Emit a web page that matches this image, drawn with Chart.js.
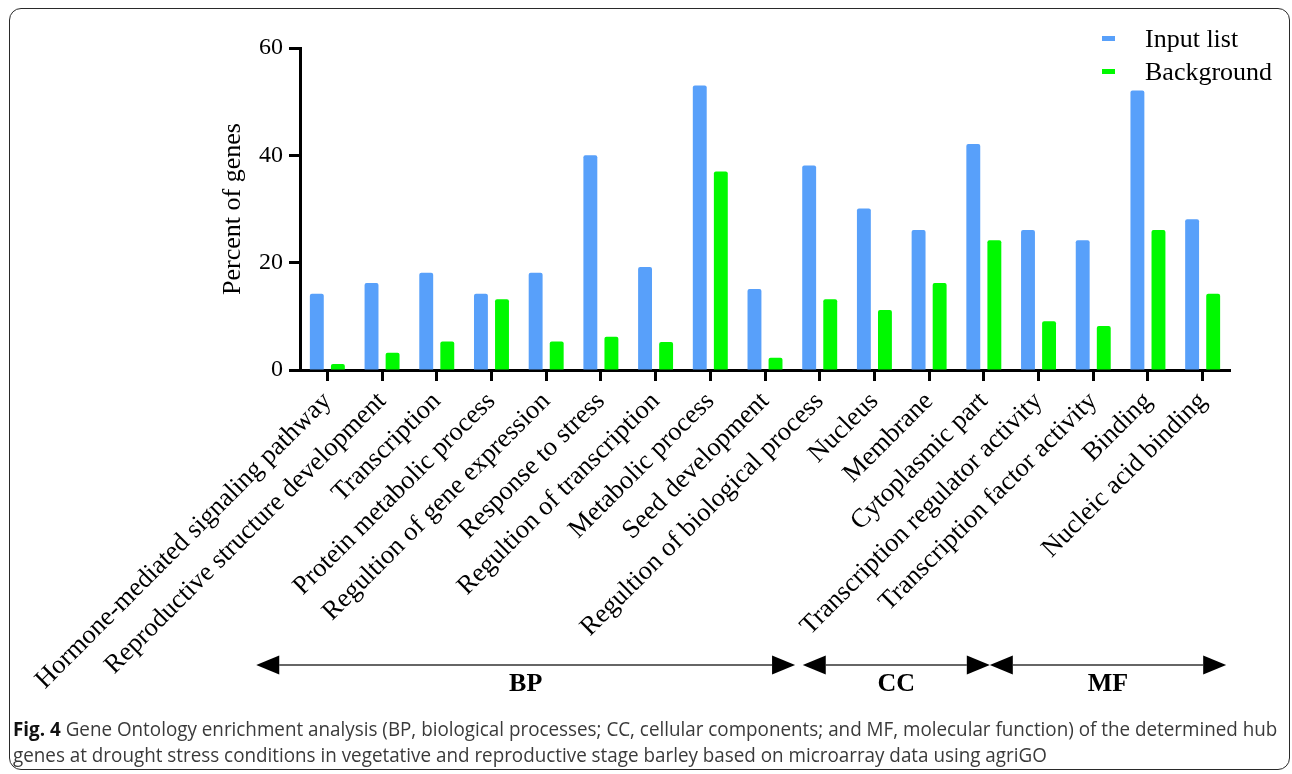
<!DOCTYPE html>
<html>
<head>
<meta charset="utf-8">
<script src="https://cdn.jsdelivr.net/npm/chart.js@4.4.1/dist/chart.umd.min.js"></script>
<style>
  html, body { margin: 0; padding: 0; background: #fff; }
  #wrap { position: relative; width: 1292px; height: 774px; overflow: hidden; }
  #chart { position: absolute; left: 0; top: 0; }
  #frame { position: absolute; left: 9px; top: 8px; width: 1281px; height: 762px;
           border: 1.5px solid #2a2a2a; border-radius: 12px; box-sizing: border-box; pointer-events: none; }
  .cap { position: absolute; left: 13px; white-space: nowrap; font-family: "Open Sans", sans-serif;
         font-size: 19.5px; line-height: 26px; color: #3a3a3a; transform-origin: 0 0; }
  .cap b { color: #111; font-weight: 700; }
</style>
</head>
<body>
<div id="wrap">
  <canvas id="chart" width="1292" height="774"></canvas>
  <div id="frame"></div>
  <div class="cap" id="cap1" style="top:716px"><b>Fig. 4</b> Gene Ontology enrichment analysis (BP, biological processes; CC, cellular components; and MF, molecular function) of the determined hub</div>
  <div class="cap" id="cap2" style="top:742px">genes at drought stress conditions in vegetative and reproductive stage barley based on microarray data using agriGO</div>
</div>
<script>
// GO terms on the x axis
const categories = [
  'Hormone-mediated signaling pathway',
  'Reproductive structure development',
  'Transcription',
  'Protein metabolic process',
  'Regultion of gene expression',
  'Response to stress',
  'Regultion of transcription',
  'Metabolic process',
  'Seed development',
  'Regultion of biological process',
  'Nucleus',
  'Membrane',
  'Cytoplasmic part',
  'Transcription regulator activity',
  'Transcription factor activity',
  'Binding',
  'Nucleic acid binding'
];

// percent of genes annotated to each term
const inputList  = [14.2, 16.2, 18.1, 14.2, 18.1, 40.0, 19.2, 53.0, 15.1, 38.1, 30.1, 26.1, 42.1, 26.1, 24.2, 52.1, 28.1];
const background = [1.1, 3.2, 5.3, 13.2, 5.3, 6.2, 5.2, 37.0, 2.3, 13.2, 11.2, 16.2, 24.2, 9.1, 8.2, 26.1, 14.2];

const seriesNames = ['Input list', 'Background'];
const yTicks = [0, 20, 40, 60];

// ontology groups, spans given in category-index units
const groupNames = ['BP', 'CC', 'MF'];
const groupFrom  = [-1.3, 8.69, 12.11];
const groupTo    = [8.55, 12.11, 16.43];

const SERIF = '"Liberation Serif", "Times New Roman", serif';
const BLUE = '#58a0fa';
const GREEN = '#00f900';

const groupArrows = {
  id: 'groupArrows',
  afterDraw(chart) {
    const ctx = chart.ctx;
    const x = chart.scales.x;
    const y = 665, head = 23, half = 9.5;
    ctx.save();
    for (let i = 0; i < groupNames.length; i++) {
      const a = x.getPixelForValue(groupFrom[i]);
      const b = x.getPixelForValue(groupTo[i]);
      ctx.strokeStyle = '#333';
      ctx.lineWidth = 1.5;
      ctx.beginPath();
      ctx.moveTo(a + head, y);
      ctx.lineTo(b - head, y);
      ctx.stroke();
      ctx.fillStyle = '#000';
      ctx.beginPath();
      ctx.moveTo(a, y); ctx.lineTo(a + head, y - half); ctx.lineTo(a + head, y + half); ctx.closePath();
      ctx.fill();
      ctx.beginPath();
      ctx.moveTo(b, y); ctx.lineTo(b - head, y - half); ctx.lineTo(b - head, y + half); ctx.closePath();
      ctx.fill();
      ctx.font = 'bold 26px ' + SERIF;
      ctx.textAlign = 'center';
      ctx.textBaseline = 'alphabetic';
      ctx.fillText(groupNames[i], (a + b) / 2, 691);
    }
    ctx.restore();
  }
};

const seriesKey = {
  id: 'seriesKey',
  afterDraw(chart) {
    const ctx = chart.ctx;
    ctx.save();
    chart.data.datasets.forEach((ds, i) => {
      const cy = 39 + i * 33;
      ctx.fillStyle = ds.backgroundColor;
      ctx.fillRect(1102, cy - 3, 13, 5);
      ctx.fillStyle = '#000';
      ctx.font = '26px ' + SERIF;
      ctx.textAlign = 'left';
      ctx.textBaseline = 'middle';
      ctx.fillText(ds.label, 1145, cy + 1);
    });
    ctx.restore();
  }
};

new Chart(document.getElementById('chart'), {
  type: 'bar',
  data: {
    labels: categories,
    datasets: [
      { label: seriesNames[0], data: inputList, backgroundColor: BLUE,
        barPercentage: 0.66, categoryPercentage: 0.77, borderRadius: { topLeft: 2, topRight: 2 } },
      { label: seriesNames[1], data: background, backgroundColor: GREEN,
        barPercentage: 0.66, categoryPercentage: 0.77, borderRadius: { topLeft: 2, topRight: 2 } }
    ]
  },
  options: {
    responsive: false,
    devicePixelRatio: 1,
    animation: false,
    layout: { padding: { left: 214, right: 62, top: 48, bottom: 0 } },
    plugins: {
      legend: { display: false },
      tooltip: { enabled: false }
    },
    scales: {
      x: {
        offset: true,
        afterFit(scale) { scale.height = 404; },
        border: { display: true, color: '#000', width: 3 },
        grid: { offset: false, drawOnChartArea: false, drawTicks: true, tickLength: 11, tickWidth: 3, tickColor: '#000' },
        ticks: {
          autoSkip: false, maxRotation: 45, minRotation: 45, padding: 5,
          color: '#000', font: { family: SERIF, size: 26.5 }
        }
      },
      y: {
        min: 0, max: 60,
        afterFit(scale) { scale.width = 86; },
        afterBuildTicks(scale) { scale.ticks = yTicks.map(v => ({ value: v })); },
        border: { display: true, color: '#000', width: 3 },
        grid: { drawOnChartArea: false, drawTicks: true, tickLength: 11, tickWidth: 3, tickColor: '#000' },
        ticks: { padding: 6, color: '#000', font: { family: SERIF, size: 24 } },
        title: {
          display: true, text: 'Percent of genes', color: '#000',
          font: { family: SERIF, size: 26 }, padding: { top: 4, bottom: 0 }
        }
      }
    }
  },
  plugins: [groupArrows, seriesKey]
});

// fit each caption line to the text block width
const c1 = document.getElementById('cap1');
const c2 = document.getElementById('cap2');
const k = 1264 / c1.offsetWidth;
c1.style.transform = 'scaleX(' + k + ')';
c2.style.transform = 'scaleX(' + k + ')';
</script>
</body>
</html>
